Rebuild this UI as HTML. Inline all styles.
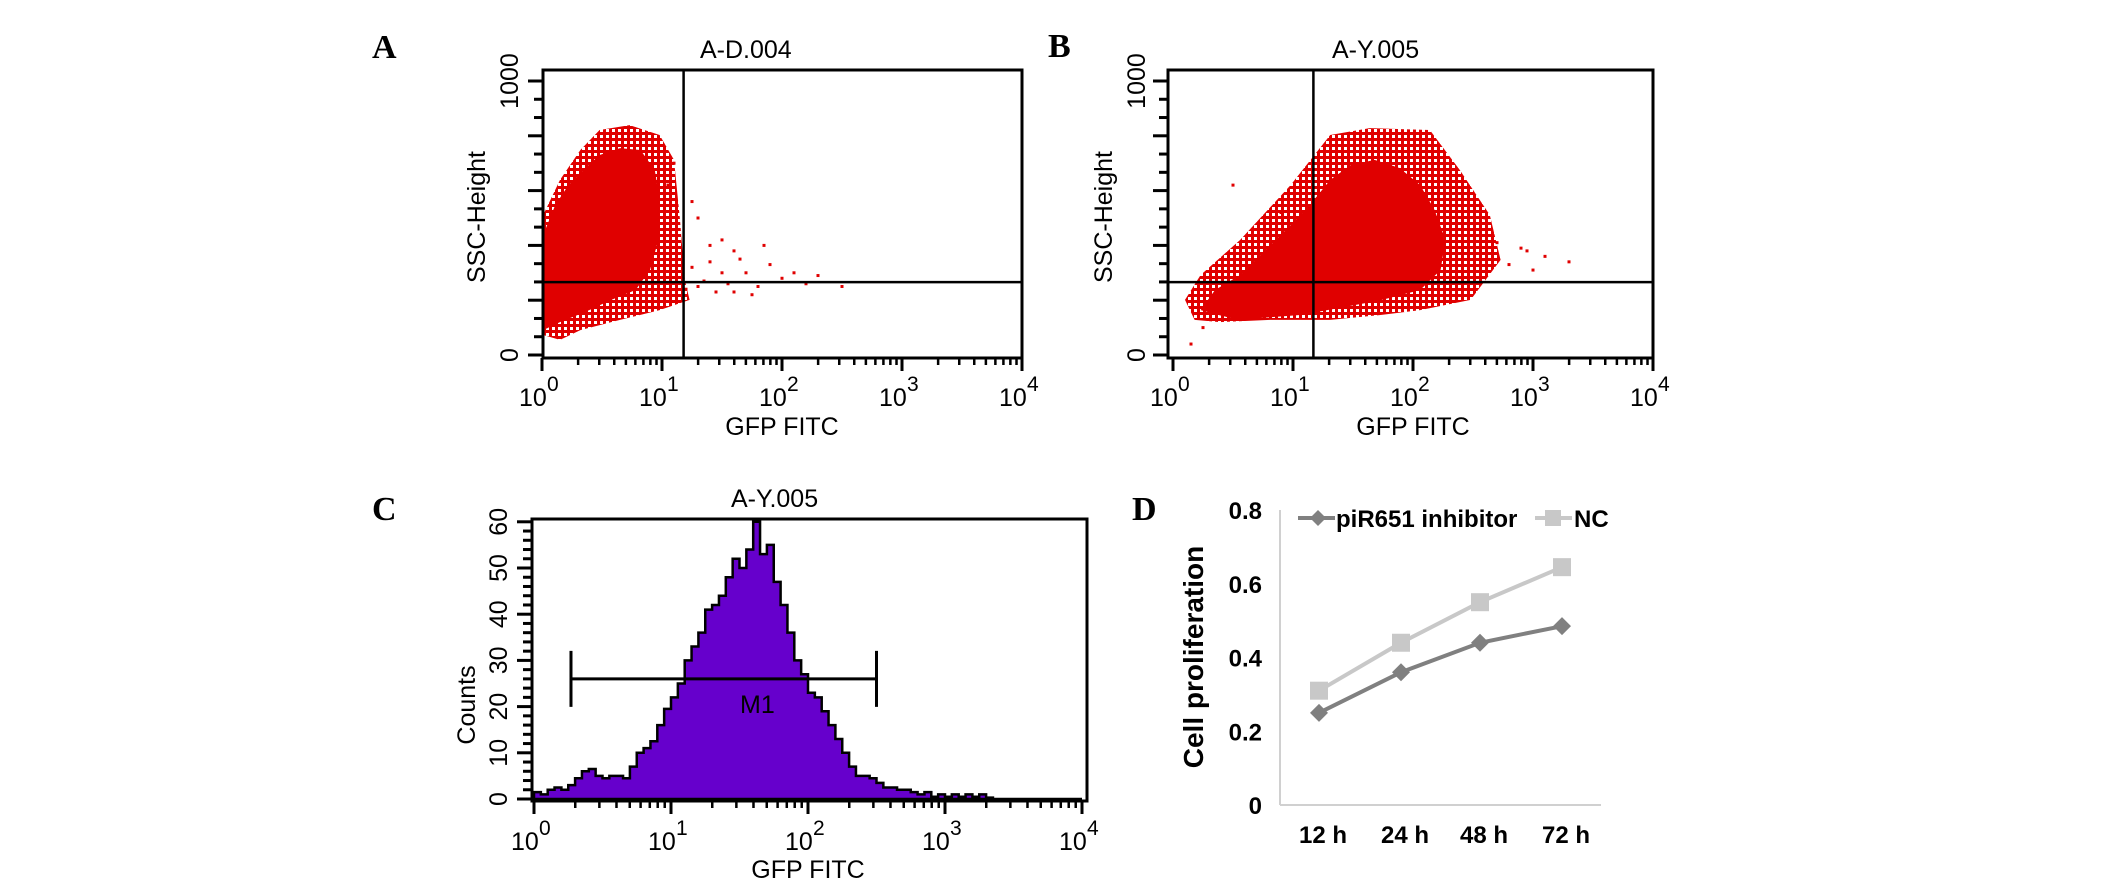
<!DOCTYPE html>
<html><head><meta charset="utf-8"><style>
html,body{margin:0;padding:0;background:#fff;}
svg{display:block;font-family:"Liberation Sans",Arial,sans-serif;}
</style></head><body>
<svg id="fig" width="2126" height="891" viewBox="0 0 2126 891" xmlns="http://www.w3.org/2000/svg">
<defs>
<pattern id="speck" width="6" height="6" patternUnits="userSpaceOnUse">
<rect x="0" y="0" width="3" height="3" fill="#e00000"/><rect x="3" y="3" width="3" height="3" fill="#e00000"/><rect x="3" y="0" width="3" height="3" fill="#e00000"/>
</pattern>
</defs>
<g font-family="Liberation Serif,serif" font-weight="bold" font-size="34">
<text x="372" y="58">A</text>
<text x="1048" y="57">B</text>
<text x="372" y="520">C</text>
<text x="1132" y="520">D</text>
</g>
<g id="pa"></g>
<g id="pb"></g>
<g id="pc"></g>
<g id="pd"></g>
</svg>
<script>
// ---- Panel A data (log10 GFP, SSC-Height) ----
const aCoreX = [0.01,0.01,0.11,0.22,0.36,0.48,0.65,0.82,0.94,0.98,0.97,0.90,0.78,0.57,0.36,0.15];
const aCoreY = [91,438,547,620,682,730,755,748,675,566,420,310,237,200,157,120];
const aHaloX = [0.01,0.01,0.15,0.32,0.48,0.73,0.98,1.10,1.15,1.19,1.23,0.98,0.65,0.32,0.15];
const aHaloY = [73,511,639,748,821,839,803,712,493,274,201,164,128,91,55];
const aDotX = [1.3,1.5,1.6,1.4,1.25,1.7,1.9,2.1,2.3,1.35,1.55,1.8,1.2,1.45,2.0,1.65,1.25,1.85,1.1,1.05,1.3,1.5,2.5,1.75,1.4,1.6,2.2];
const aDotY = [500,420,380,340,320,300,330,300,290,270,260,250,240,230,280,350,560,400,700,620,250,300,250,220,400,230,260];
// ---- Panel B data ----
const bCoreX = [0.23,0.35,0.56,0.77,0.98,1.14,1.31,1.48,1.68,1.89,2.06,2.18,2.27,2.23,2.06,1.73,1.39,1.06,0.73,0.48];
const bCoreY = [164,237,292,383,474,547,639,693,712,682,620,529,420,310,237,200,172,146,135,135];
const bHaloX = [0.10,0.23,0.56,0.98,1.31,1.64,2.14,2.39,2.64,2.73,2.48,2.06,1.73,1.31,0.81,0.39,0.18];
const bHaloY = [201,292,420,620,803,828,821,675,511,347,201,164,146,128,128,120,128];
const bDotX = [0.5,0.4,0.15,2.9,2.8,3.3,3.0,2.7,0.9,2.6,2.95,0.25,3.1];
const bDotY = [620,150,40,390,330,340,310,410,520,500,380,100,360];
// ---- Panel C histogram counts, bins of 0.05 decade from 10^0 ----
const cCounts = [1.5,1,2,2.5,2,3,4.5,6,6.5,5, 4.5,5,5,4.5,7,10,11,12.5,16,19.5,
 22,25,30,33,36,41,42,44,48,52, 50,54,60,53,55,47,42,36,30,27,
 23,22,19,16,13,10,7,5,5,4.5, 3.5,2.5,2.5,2,2,1.5,1,1.5,0.5,1,
 0.5,1,0.5,1,0.5,1,0.3,0,0,0, 0,0,0,0,0,0,0,0,0,0];
const cGate = [0.27,2.5];
const cGateCount = [26];
// ---- Panel D ----
const dCategories = ["12 h","24 h","48 h","72 h"];
const dInhibitor = [0.25,0.36,0.44,0.485];
const dNC = [0.31,0.44,0.55,0.645];
const dTicks = [0,0.2,0.4,0.6,0.8];
const dTickLabels = ["0","0.2","0.4","0.6","0.8"];
const logTicks = [0,1,2,3,4];

const NS="http://www.w3.org/2000/svg";
function mk(parent,tag,attrs,text){const e=document.createElementNS(NS,tag);for(const k in attrs)e.setAttribute(k,attrs[k]);if(text!==undefined)e.textContent=text;parent.appendChild(e);return e;}

function logAxis(g,x0,dec,yAxis){
  for(let d=0;d<4;d++){for(let m=1;m<10;m++){
    const x=x0+(d+Math.log10(m))*dec;
    const t=mk(g,'line',{x1:x,x2:x,y1:yAxis,y2:yAxis+(m===1?13:7),stroke:'#000','stroke-width':m===1?3:2.5});
    
    
  }}
  mk(g,'line',{x1:x0+4*dec,x2:x0+4*dec,y1:yAxis,y2:yAxis+13,stroke:'#000','stroke-width':3});
}
function logLabels(g,x0,dec,base){
  logTicks.forEach(k=>{
    const x=x0+k*dec;
    const t=mk(g,'text',{x:x-23,y:base,'font-size':25},'10');
    
    
    mk(g,'text',{x:x+5,y:base-15,'font-size':21},String(k));
  });
}
function poly(g,xs,ys,fx,fy,fill,name){
  const pts=xs.map((v,i)=>fx(v)+','+fy(ys[i])).join(' ');
  const p=mk(g,'polygon',{points:pts,fill:fill});
  
  
}
function scatterPanel(id,o){
  const g=document.getElementById(id);
  const fx=v=>o.x0+v*120, fy=v=>355-v*0.274;
  poly(g,o.hx,o.hy,fx,fy,'url(#speck)','cloud-halo');
  poly(g,o.cx,o.cy,fx,fy,'#e00000','cloud-core');
  o.dx.forEach((v,i)=>{
    const r=mk(g,'rect',{x:fx(v)-1.5,y:fy(o.dy[i])-1.5,width:3,height:3,fill:'#e00000'});
    
    
  });
  const L=o.left,R=o.x0+480,T=70,B=358;
  mk(g,'rect',{x:L,y:T,width:R-L,height:B-T,fill:'none',stroke:'#000','stroke-width':3});
  mk(g,'line',{x1:fx(o.gx),x2:fx(o.gx),y1:T,y2:B,stroke:'#000','stroke-width':2.5});
  mk(g,'line',{x1:L,x2:R,y1:fy(266),y2:fy(266),stroke:'#000','stroke-width':2.5});
  for(let i=0;i<=15;i++){const y=fy(i*1000/15);mk(g,'line',{x1:L-(i%3===0?15:9),x2:L,y1:y,y2:y,stroke:'#000','stroke-width':3});}
  logAxis(g,o.x0,120,B);
  logLabels(g,o.x0,120,406);
  const t=mk(g,'text',{x:o.x0+240,y:435,'font-size':25,'text-anchor':'middle'},'GFP FITC');
  
  const tt=mk(g,'text',{x:o.tx,y:58,'font-size':25},o.title);
  
  const yt=mk(g,'text',{transform:`translate(${o.ylx},217) rotate(-90)`,'font-size':25,'text-anchor':'middle'},'SSC-Height');
  
  mk(g,'text',{transform:`translate(${o.ytx},81) rotate(-90)`,'font-size':25,'text-anchor':'middle'},'1000');
  mk(g,'text',{transform:`translate(${o.ytx},355) rotate(-90)`,'font-size':25,'text-anchor':'middle'},'0');
}
scatterPanel('pa',{x0:542,left:543,cx:aCoreX,cy:aCoreY,hx:aHaloX,hy:aHaloY,dx:aDotX,dy:aDotY,gx:1.18,title:'A-D.004',tx:700,ylx:485,ytx:518});
scatterPanel('pb',{x0:1173,left:1168,cx:bCoreX,cy:bCoreY,hx:bHaloX,hy:bHaloY,dx:bDotX,dy:bDotY,gx:1.17,title:'A-Y.005',tx:1332,ylx:1112,ytx:1145});

// Panel C
(function(){
  const g=document.getElementById('pc');
  const x0=534,dec=137,fx=v=>x0+v*dec,fy=c=>799-c*4.62;
  let d=`M${fx(0)},${fy(0)}`;
  cCounts.forEach((c,i)=>{d+=` L${fx(i*0.05)},${fy(c)} L${fx((i+1)*0.05)},${fy(c)}`;});
  d+=` L${fx(cCounts.length*0.05)},${fy(0)} Z`;
  const p=mk(g,'path',{d:d,fill:'#6600cc',stroke:'#000','stroke-width':2.5,'stroke-linejoin':'miter'});
  
  
  const L=532,R=1087,T=519,B=801;
  mk(g,'rect',{x:L,y:T,width:R-L,height:B-T,fill:'none',stroke:'#000','stroke-width':3});
  for(let i=0;i<=30;i++){const y=fy(i*2);mk(g,'line',{x1:L-(i%5===0?15:9),x2:L,y1:y,y2:y,stroke:'#000','stroke-width':3});}
  for(let k=0;k<=6;k++){mk(g,'text',{transform:`translate(507,${fy(k*10)}) rotate(-90)`,'font-size':25,'text-anchor':'middle'},String(k*10));}
  logAxis(g,x0,dec,B);
  logLabels(g,x0,dec,850);
  const gy=fy(cGateCount[0]);
  const gate=mk(g,'path',{d:`M${fx(cGate[0])},${gy-28}V${gy+28}M${fx(cGate[0])},${gy}H${fx(cGate[1])}M${fx(cGate[1])},${gy-28}V${gy+28}`,stroke:'#000','stroke-width':3,fill:'none'});
  
  
  mk(g,'text',{x:740,y:713,'font-size':25},'M1');
  const t=mk(g,'text',{x:808,y:878,'font-size':25,'text-anchor':'middle'},'GFP FITC');
  
  mk(g,'text',{x:731,y:507,'font-size':25},'A-Y.005');
  const yt=mk(g,'text',{transform:'translate(475,705) rotate(-90)','font-size':25,'text-anchor':'middle'},'Counts');
  
})();

// Panel D
(function(){
  const g=document.getElementById('pd');
  const xs=[1319,1401,1480,1562];
  const fx=i=>xs[i], fy=v=>805-v*368.75;
  mk(g,'line',{x1:1280,x2:1280,y1:510,y2:805,stroke:'#d0d0d0','stroke-width':2});
  mk(g,'line',{x1:1280,x2:1601,y1:805,y2:805,stroke:'#d0d0d0','stroke-width':2});
  dTicks.forEach((v,i)=>{const t=mk(g,'text',{x:1262,y:fy(v)+9,'font-size':24,'font-weight':'bold','text-anchor':'end'},dTickLabels[i]);
    });
  dCategories.forEach((c,i)=>{const t=mk(g,'text',{x:fx(i)+4,y:843,'font-size':24,'font-weight':'bold','text-anchor':'middle'},c);
    });
  const yt=mk(g,'text',{transform:'translate(1203,657) rotate(-90)','font-size':28,'font-weight':'bold','text-anchor':'middle'},'Cell proliferation');
  
  function series(vals,color,shape,name){
    const l=mk(g,'polyline',{points:vals.map((v,i)=>fx(i)+','+fy(v)).join(' '),fill:'none',stroke:color,'stroke-width':4});
    
    
    vals.forEach((v,i)=>{
      const x=fx(i),y=fy(v);
      const m=shape==='d'?mk(g,'polygon',{points:`${x},${y-9} ${x+9},${y} ${x},${y+9} ${x-9},${y}`,fill:color}):mk(g,'rect',{x:x-9,y:y-9,width:18,height:18,fill:color});
      
      
    });
  }
  series(dNC,'#c8c8c8','s','nc');
  series(dInhibitor,'#808080','d','inhibitor');
  // legend
  const lg=mk(g,'g',{});
  
  
  mk(lg,'line',{x1:1298,x2:1335,y1:518,y2:518,stroke:'#808080','stroke-width':4});
  mk(lg,'polygon',{points:'1318,510 1326,518 1318,526 1310,518',fill:'#808080'});
  mk(lg,'text',{x:1336,y:527,'font-size':24,'font-weight':'bold'},'piR651 inhibitor');
  mk(lg,'line',{x1:1535,x2:1572,y1:518,y2:518,stroke:'#c8c8c8','stroke-width':4});
  mk(lg,'rect',{x:1545,y:510,width:16,height:16,fill:'#c8c8c8'});
  mk(lg,'text',{x:1574,y:527,'font-size':24,'font-weight':'bold'},'NC');
})();
</script>
</body></html>
